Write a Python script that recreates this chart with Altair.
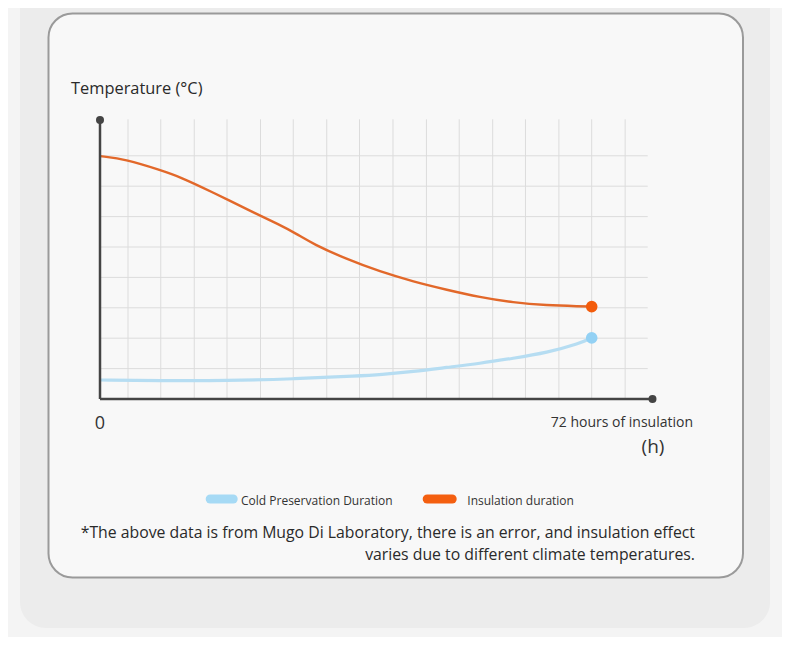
import altair as alt
import pandas as pd

# ---- data (arbitrary temperature units, 1 unit = 1 grid row)
hours_ins = [0, 3.9, 8.8, 11.7, 16.6, 21.5, 26.4, 28.8, 31.2, 36.1, 41.0, 45.9, 50.8, 55.6, 60.5, 65.4, 70.3, 72]
temp_ins = [7.99, 7.88, 7.53, 7.31, 6.79, 6.24, 5.72, 5.43, 5.10, 4.60, 4.19, 3.86, 3.59, 3.35, 3.17, 3.08, 3.05, 3.04]

hours_cold = [0, 8.8, 18.6, 28.3, 38.1, 41.0, 45.9, 50.8, 55.6, 60.5, 65.4, 70.3, 72]
temp_cold = [0.625, 0.60, 0.60, 0.66, 0.76, 0.80, 0.90, 1.04, 1.17, 1.34, 1.52, 1.83, 2.01]

grid_x = [4.1, 8.9, 13.8, 18.6, 23.5, 28.3, 33.2, 38.0, 42.9, 47.8, 52.6, 57.5, 62.3, 67.2, 72.0, 76.9]
grid_y = [1, 2, 3, 4, 5, 6, 7, 8]

series_names = ["Cold Preservation Duration", "Insulation duration"]
line_colors = ["#b6ddf2", "#e2682a"]
dot_colors = ["#93d1f4", "#f35c0c"]

x_end = 80.9
y_top = 9.18
grid_right = 80.2
grid_top = 9.2

FONT = "Open Sans"
TXT = "#2a2a2a"

xs = alt.Scale(domain=[0, 72], range=[92, 583.7], nice=False, zero=False)
ys = alt.Scale(domain=[0, 8], range=[391, 147.8], nice=False, zero=False)

one = pd.DataFrame({"a": [0]})

df_ins = pd.DataFrame({"t": hours_ins, "v": temp_ins})
df_cold = pd.DataFrame({"t": hours_cold, "v": temp_cold})
df_gx = pd.DataFrame({"gx": grid_x, "y0": 0.0, "y1": grid_top})
df_gy = pd.DataFrame({"gy": grid_y, "x0": 0.0, "x1": grid_right})

# background panels
outer = alt.Chart(one).mark_rect(fill="#ececec", cornerRadius=26).encode(
    x=alt.value(12), x2=alt.value(762), y=alt.value(-40), y2=alt.value(620))
card = alt.Chart(one).mark_rect(fill="#f8f8f8", stroke="#9a9a9a", strokeWidth=2, cornerRadius=24).encode(
    x=alt.value(40.5), x2=alt.value(735), y=alt.value(5.5), y2=alt.value(569.5))

# grid
vgrid = alt.Chart(df_gx).mark_rule(color="#dcdcdc", strokeWidth=1).encode(
    x=alt.X("gx:Q", scale=xs, axis=None),
    y=alt.Y("y0:Q", scale=ys, axis=None), y2="y1:Q")
hgrid = alt.Chart(df_gy).mark_rule(color="#dcdcdc", strokeWidth=1).encode(
    y=alt.Y("gy:Q", scale=ys, axis=None),
    x=alt.X("x0:Q", scale=xs, axis=None), x2="x1:Q")

# axes
df_axes = pd.DataFrame({"x0": [0.0, 0.0], "x1": [0.0, x_end], "y0": [0.0, 0.0], "y1": [y_top, 0.0]})
axes = alt.Chart(df_axes).mark_rule(color="#444444", strokeWidth=2.5).encode(
    x=alt.X("x0:Q", scale=xs, axis=None), x2="x1:Q",
    y=alt.Y("y0:Q", scale=ys, axis=None), y2="y1:Q")
df_axdots = pd.DataFrame({"x": [0.0, x_end], "y": [y_top, 0.0]})
axdots = alt.Chart(df_axdots).mark_point(filled=True, color="#444444", size=64, opacity=1).encode(
    x=alt.X("x:Q", scale=xs, axis=None), y=alt.Y("y:Q", scale=ys, axis=None))

# curves
cold_line = alt.Chart(df_cold).mark_line(color=line_colors[0], strokeWidth=3.2, interpolate="basis").encode(
    x=alt.X("t:Q", scale=xs, axis=None), y=alt.Y("v:Q", scale=ys, axis=None))
ins_line = alt.Chart(df_ins).mark_line(color=line_colors[1], strokeWidth=2.4, interpolate="basis").encode(
    x=alt.X("t:Q", scale=xs, axis=None), y=alt.Y("v:Q", scale=ys, axis=None))
cold_dot = alt.Chart(df_cold.tail(1)).mark_point(filled=True, color=dot_colors[0], size=135, opacity=1).encode(
    x=alt.X("t:Q", scale=xs, axis=None), y=alt.Y("v:Q", scale=ys, axis=None))
ins_dot = alt.Chart(df_ins.tail(1)).mark_point(filled=True, color=dot_colors[1], size=135, opacity=1).encode(
    x=alt.X("t:Q", scale=xs, axis=None), y=alt.Y("v:Q", scale=ys, axis=None))

def label(text, x, y, size, align="left", color=TXT, baseline="alphabetic"):
    return alt.Chart(one).mark_text(text=text, font=FONT, fontSize=size, align=align,
                                    baseline=baseline, color=color).encode(
        x=alt.value(x), y=alt.value(y))

texts = [
    label("Temperature (°C)", 63, 86, 16.4),
    label("0", 92, 421, 18, align="center", color="#333333"),
    label("72 hours of insulation", 685, 419, 14, align="right", color="#333333"),
    label("(h)", 645, 445, 19, align="center", color="#333333"),
    label(series_names[0], 233, 492.5, 12, baseline="middle", color="#333333"),
    label(series_names[1], 459.3, 492.5, 12, baseline="middle", color="#333333"),
    label("*The above data is from Mugo Di Laboratory, there is an error, and insulation effect",
          687, 530, 15.8, align="right"),
    label("varies due to different climate temperatures.", 687, 551.5, 15.8, align="right"),
]

leg_blue = alt.Chart(one).mark_rule(color="#a6daf5", strokeWidth=9, strokeCap="round").encode(
    x=alt.value(202.2), x2=alt.value(225.2), y=alt.value(491))
leg_orange = alt.Chart(one).mark_rule(color="#f45f10", strokeWidth=9, strokeCap="round").encode(
    x=alt.value(419.2), x2=alt.value(444.2), y=alt.value(491))

chart = alt.layer(
    outer, card, vgrid, hgrid, cold_line, ins_line, axes, axdots, cold_dot, ins_dot,
    leg_blue, leg_orange, *texts
).properties(
    width=774, height=629, padding=0,
    autosize=alt.AutoSizeParams(type="none"),
).configure(background="#f4f4f4").configure_view(strokeWidth=0)

chart.save("out.html", embed_options={"renderer": "svg", "actions": False})
